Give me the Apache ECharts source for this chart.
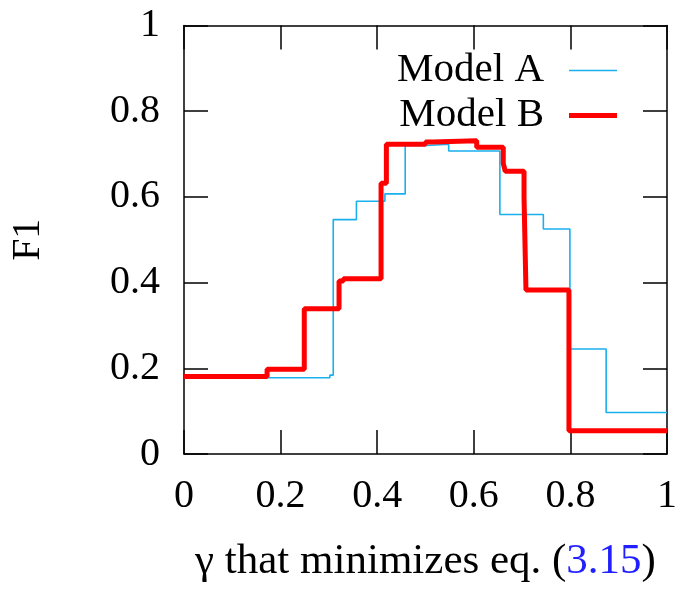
<!DOCTYPE html>
<html>
<head>
<meta charset="utf-8">
<script src="https://cdn.jsdelivr.net/npm/echarts@6/dist/echarts.min.js"></script>
<style>html,body{margin:0;padding:0;background:#fff}#c{width:683px;height:589px}</style>
</head>
<body>
<div id="c"></div>
<script>
// Step change points [x, new F1 value] (step: 'end')
const modelA = [
  [0, 0.178], [0.302, 0.184], [0.309, 0.547], [0.357, 0.590], [0.416, 0.607],
  [0.458, 0.720], [0.503, 0.723], [0.548, 0.707], [0.654, 0.559], [0.744, 0.525],
  [0.799, 0.245], [0.874, 0.097], [1, 0.097]
];
const modelB = [
  [0, 0.181], [0.172, 0.198], [0.249, 0.339], [0.321, 0.404], [0.330, 0.409],
  [0.408, 0.632], [0.419, 0.723], [0.500, 0.728], [0.515, 0.731], [0.606, 0.716],
  [0.661, 0.678], [0.665, 0.660], [0.704, 0.599], [0.708, 0.383], [0.797, 0.054],
  [1, 0.054]
];
const seriesNames = ['Model A', 'Model B'];
const xTitle = 'γ that minimizes eq. ({ref|3.15})';
const yTitle = 'F1';

const FONT = 'Liberation Serif';
const FS = 40;
const chart = echarts.init(document.getElementById('c'));
const tickCommon = { show: true, inside: true, length: 24, lineStyle: { color: '#000', width: 1.5 } };
const lineCommon = { show: true, onZero: false, lineStyle: { color: '#000', width: 1.5 } };
chart.setOption({
  animation: false,
  grid: { left: 181, right: 16, top: 25.5, bottom: 135 },
  legend: {
    orient: 'vertical', align: 'right', right: 61, top: 45,
    itemWidth: 48, itemHeight: 14, itemGap: 4,
    textStyle: { fontFamily: FONT, fontSize: 41, color: '#000', padding: [0, 20, 0, 0] },
    data: [
      { name: seriesNames[0], icon: 'path://M0,0 L48,0 L48,1.6 L0,1.6 Z', itemStyle: { color: '#1ab0ec' } },
      { name: seriesNames[1], icon: 'path://M0,0 L48,0 L48,5 L0,5 Z', itemStyle: { color: '#ff0000' } }
    ]
  },
  xAxis: [
    {
      type: 'value', min: 0, max: 1, interval: 0.2, position: 'bottom',
      axisLine: lineCommon, axisTick: tickCommon, splitLine: { show: false },
      axisLabel: { fontFamily: FONT, fontSize: FS, color: '#000', margin: 22 },
      name: xTitle, nameLocation: 'middle', nameGap: 86,
      nameTextStyle: { fontFamily: FONT, fontSize: 43, color: '#000',
        rich: { ref: { fontFamily: FONT, fontSize: 43, color: '#1f1fff' } } }
    },
    {
      type: 'value', min: 0, max: 1, interval: 0.2, position: 'top',
      axisLine: lineCommon, axisTick: tickCommon, splitLine: { show: false },
      axisLabel: { show: false }
    }
  ],
  yAxis: [
    {
      type: 'value', min: 0, max: 1, interval: 0.2, position: 'left',
      axisLine: lineCommon, axisTick: tickCommon, splitLine: { show: false },
      axisLabel: { fontFamily: FONT, fontSize: FS, color: '#000', margin: 24 },
      name: yTitle, nameLocation: 'middle', nameGap: 136,
      nameTextStyle: { fontFamily: FONT, fontSize: FS, color: '#000' }
    },
    {
      type: 'value', min: 0, max: 1, interval: 0.2, position: 'right',
      axisLine: lineCommon, axisTick: tickCommon, splitLine: { show: false },
      axisLabel: { show: false }
    }
  ],
  series: [
    {
      name: seriesNames[0], type: 'line', step: 'end', data: modelA,
      showSymbol: false, symbol: 'none', clip: false,
      lineStyle: { color: '#1ab0ec', width: 1.6 }, itemStyle: { color: '#1ab0ec' }
    },
    {
      name: seriesNames[1], type: 'line', step: 'end', data: modelB,
      showSymbol: false, symbol: 'none', clip: false,
      lineStyle: { color: '#ff0000', width: 5 }, itemStyle: { color: '#ff0000' }
    }
  ]
});
</script>
</body>
</html>
